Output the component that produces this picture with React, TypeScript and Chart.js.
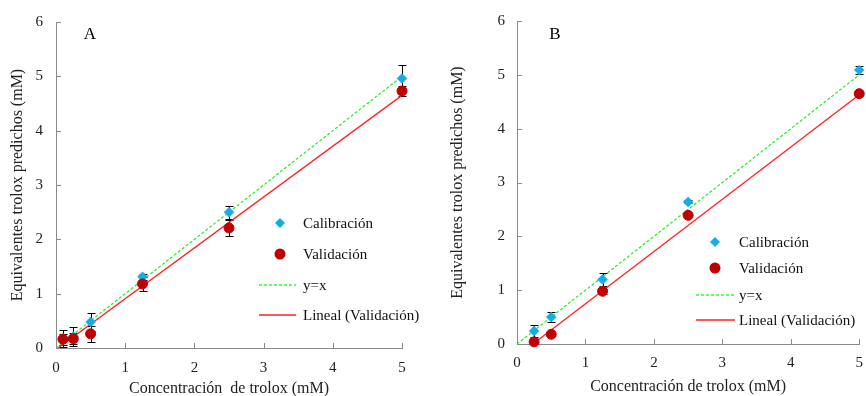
import React, { useEffect, useRef } from 'react';
import { Chart, registerables } from 'chart.js';

Chart.register(...registerables);

const FONT = "'Liberation Serif', 'Times New Roman', serif";

// ---------- Data: panel A ----------
const xA = [0.1, 0.25, 0.5, 1.25, 2.5, 5];
const calA = [0.18, 0.21, 0.48, 1.31, 2.5, 4.96];
const calAErr = [0.16, 0.18, 0.16, 0.06, 0.12, 0.24];
const valA = [0.16, 0.17, 0.26, 1.18, 2.21, 4.73];
const valAErr = [0.1, 0.1, 0.15, 0.13, 0.14, 0.09];
const linAX = [0.03, 5];
const linAY = [0, 4.65];

// ---------- Data: panel B ----------
const xB = [0.25, 0.5, 1.25, 2.5, 5];
const calB = [0.24, 0.5, 1.2, 2.64, 5.09];
const calBErr = [0.11, 0.09, 0.12, 0.03, 0.07];
const valB = [0.04, 0.18, 0.98, 2.39, 4.65];
const valBErr = [0.03, 0.03, 0.05, 0.03, 0.03];
const linBX = [0.25, 5];
const linBY = [0.02, 4.63];

// ---------- Shared ----------
const identX = [0, 5];
const identY = [0, 5];
const xTicks = [0, 1, 2, 3, 4, 5];
const yTicks = [0, 1, 2, 3, 4, 5, 6];
const legendLabels = ['Calibración', 'Validación', 'y=x', 'Lineal (Validación)'];
const yTitle = 'Equivalentes trolox predichos (mM)';
const xTitleA = 'Concentración  de trolox (mM)';
const xTitleB = 'Concentración de trolox (mM)';

const BLUE = '#12aee8';
const RED = '#c00000';
const GREEN = '#22ee22';
const LINRED = '#ff2020';
const AXIS = '#8a8a8a';
const TEXT = '#222222';

const zip = (xs: number[], ys: number[]) => xs.map((x, i) => ({ x, y: ys[i] }));

type Layout = {
  w: number; h: number; padTop: number; padRight: number; yWidth: number;
  yTitlePad: number; yTickPad: number; xHeight: number; xTitlePad: number; xTickPad: number;
  tag: [number, number]; legX: number; legTextX: number; legLine: [number, number]; legY: number[];
};

const layoutA: Layout = {
  w: 433, h: 400, padTop: 18, padRight: 31, yWidth: 56, yTitlePad: 8, yTickPad: 13,
  xHeight: 52, xTitlePad: 2, xTickPad: 11, tag: [90, 35], legX: 280, legTextX: 303,
  legLine: [259, 296], legY: [223, 254, 285, 315],
};
const layoutB: Layout = {
  w: 440, h: 400, padTop: 17, padRight: 11, yWidth: 84, yTitlePad: 15, yTickPad: 12,
  xHeight: 56, xTitlePad: 4, xTickPad: 10, tag: [122, 35], legX: 282, legTextX: 306,
  legLine: [263, 302], legY: [242, 268, 295, 320],
};

function buildChart(canvas: HTMLCanvasElement, tag: string, xs: number[], cal: number[], calErr: number[],
  val: number[], valErr: number[], linX: number[], linY: number[], xTitle: string, L: Layout) {
  const errs = [valErr, calErr, null, null];

  const errorBars = {
    id: 'errorBars',
    beforeDatasetsDraw(chart: any) {
      const { ctx } = chart;
      const sx = chart.scales.x, sy = chart.scales.y;
      ctx.save();
      ctx.strokeStyle = '#000';
      ctx.lineWidth = 1;
      chart.data.datasets.forEach((ds: any, i: number) => {
        const e = errs[i];
        if (!e) return;
        ds.data.forEach((p: any, j: number) => {
          const px = Math.round(sx.getPixelForValue(p.x)) + 0.5;
          const y1 = Math.round(sy.getPixelForValue(p.y + e[j])) + 0.5;
          const y2 = Math.round(sy.getPixelForValue(p.y - e[j])) + 0.5;
          ctx.beginPath();
          ctx.moveTo(px, y1); ctx.lineTo(px, y2);
          ctx.moveTo(px - 4, y1); ctx.lineTo(px + 4, y1);
          ctx.moveTo(px - 4, y2); ctx.lineTo(px + 4, y2);
          ctx.stroke();
        });
      });
      ctx.restore();
    },
  };

  const decor = {
    id: 'decor',
    afterDraw(chart: any) {
      const { ctx, chartArea } = chart;
      const sx = chart.scales.x, sy = chart.scales.y;
      ctx.save();
      // inward tick marks
      ctx.strokeStyle = AXIS;
      ctx.lineWidth = 1;
      ctx.beginPath();
      sx.ticks.forEach((t: any) => {
        const px = Math.round(sx.getPixelForValue(t.value)) + 0.5;
        ctx.moveTo(px, chartArea.bottom); ctx.lineTo(px, chartArea.bottom - 5);
      });
      sy.ticks.forEach((t: any) => {
        const py = Math.round(sy.getPixelForValue(t.value)) + 0.5;
        ctx.moveTo(chartArea.left, py); ctx.lineTo(chartArea.left + 5, py);
      });
      ctx.stroke();
      // panel tag
      ctx.fillStyle = '#000';
      ctx.font = `17px ${FONT}`;
      ctx.textAlign = 'center';
      ctx.textBaseline = 'middle';
      ctx.fillText(tag, L.tag[0], L.tag[1]);
      // legend
      ctx.font = `15px ${FONT}`;
      ctx.textAlign = 'left';
      const [y0, y1, y2, y3] = L.legY;
      ctx.fillStyle = BLUE;
      ctx.beginPath();
      ctx.moveTo(L.legX, y0 - 5); ctx.lineTo(L.legX + 5, y0); ctx.lineTo(L.legX, y0 + 5); ctx.lineTo(L.legX - 5, y0);
      ctx.closePath(); ctx.fill();
      ctx.fillStyle = RED;
      ctx.beginPath(); ctx.arc(L.legX, y1, 5.5, 0, Math.PI * 2); ctx.fill();
      ctx.strokeStyle = '#2aff2a'; ctx.lineWidth = 1.5; ctx.setLineDash([3, 2]);
      ctx.beginPath(); ctx.moveTo(L.legLine[0], y2); ctx.lineTo(L.legLine[1], y2); ctx.stroke();
      ctx.setLineDash([]);
      ctx.strokeStyle = LINRED; ctx.lineWidth = 1.5;
      ctx.beginPath(); ctx.moveTo(L.legLine[0], y3); ctx.lineTo(L.legLine[1], y3); ctx.stroke();
      ctx.fillStyle = '#111';
      legendLabels.forEach((s, i) => ctx.fillText(s, L.legTextX, L.legY[i] + 1));
      ctx.restore();
    },
  };

  return new Chart(canvas, {
    type: 'scatter',
    data: {
      datasets: [
        {
          label: legendLabels[1], data: zip(xs, val), pointStyle: 'circle', pointRadius: 5,
          backgroundColor: RED, borderColor: RED, borderWidth: 1, clip: false,
        },
        {
          label: legendLabels[0], data: zip(xs, cal), pointStyle: 'rectRot', pointRadius: 5,
          backgroundColor: BLUE, borderColor: BLUE, borderWidth: 0.5, clip: false,
        },
        {
          label: legendLabels[2], type: 'line', data: zip(identX, identY), showLine: true,
          borderColor: GREEN, borderWidth: 1.2, borderDash: [3, 2], pointRadius: 0, fill: false,
        },
        {
          label: legendLabels[3], type: 'line', data: zip(linX, linY), showLine: true,
          borderColor: LINRED, borderWidth: 1.3, pointRadius: 0, fill: false,
        },
      ] as any,
    },
    options: {
      animation: false,
      responsive: false,
      events: [],
      layout: { padding: { top: L.padTop, right: L.padRight, left: 0, bottom: 0 } },
      plugins: { legend: { display: false }, tooltip: { enabled: false } },
      scales: {
        x: {
          type: 'linear', min: 0, max: 5,
          afterBuildTicks: (s: any) => { s.ticks = xTicks.map((v) => ({ value: v })); },
          afterFit: (s: any) => { s.height = L.xHeight; },
          grid: { display: false, drawTicks: false },
          border: { display: true, color: AXIS, width: 1 },
          ticks: { color: TEXT, padding: L.xTickPad, font: { family: FONT, size: 15 }, maxRotation: 0 },
          title: {
            display: true, text: xTitle, color: TEXT,
            font: { family: FONT, size: 16 }, padding: { top: 0, bottom: L.xTitlePad },
          },
        },
        y: {
          type: 'linear', min: 0, max: 6,
          afterBuildTicks: (s: any) => { s.ticks = yTicks.map((v) => ({ value: v })); },
          afterFit: (s: any) => { s.width = L.yWidth; },
          grid: { display: false, drawTicks: false },
          border: { display: true, color: AXIS, width: 1 },
          ticks: { color: TEXT, padding: L.yTickPad, font: { family: FONT, size: 15 } },
          title: {
            display: true, text: yTitle, color: TEXT,
            font: { family: FONT, size: 16 }, padding: { top: L.yTitlePad, bottom: 0 },
          },
        },
      },
    } as any,
    plugins: [errorBars, decor],
  });
}

export default function App() {
  const refA = useRef<HTMLCanvasElement>(null);
  const refB = useRef<HTMLCanvasElement>(null);

  useEffect(() => {
    const a = buildChart(refA.current!, 'A', xA, calA, calAErr, valA, valAErr, linAX, linAY, xTitleA, layoutA);
    const b = buildChart(refB.current!, 'B', xB, calB, calBErr, valB, valBErr, linBX, linBY, xTitleB, layoutB);
    return () => { a.destroy(); b.destroy(); };
  }, []);

  return (
    <div style={{ position: 'fixed', left: 0, top: 0, width: 866, height: 396, overflow: 'hidden', background: '#fff' }}>
      <canvas ref={refA} width={layoutA.w} height={layoutA.h}
        style={{ position: 'absolute', left: 0, top: 0, display: 'block' }} />
      <canvas ref={refB} width={layoutB.w} height={layoutB.h}
        style={{ position: 'absolute', left: 433, top: 0, display: 'block' }} />
    </div>
  );
}
